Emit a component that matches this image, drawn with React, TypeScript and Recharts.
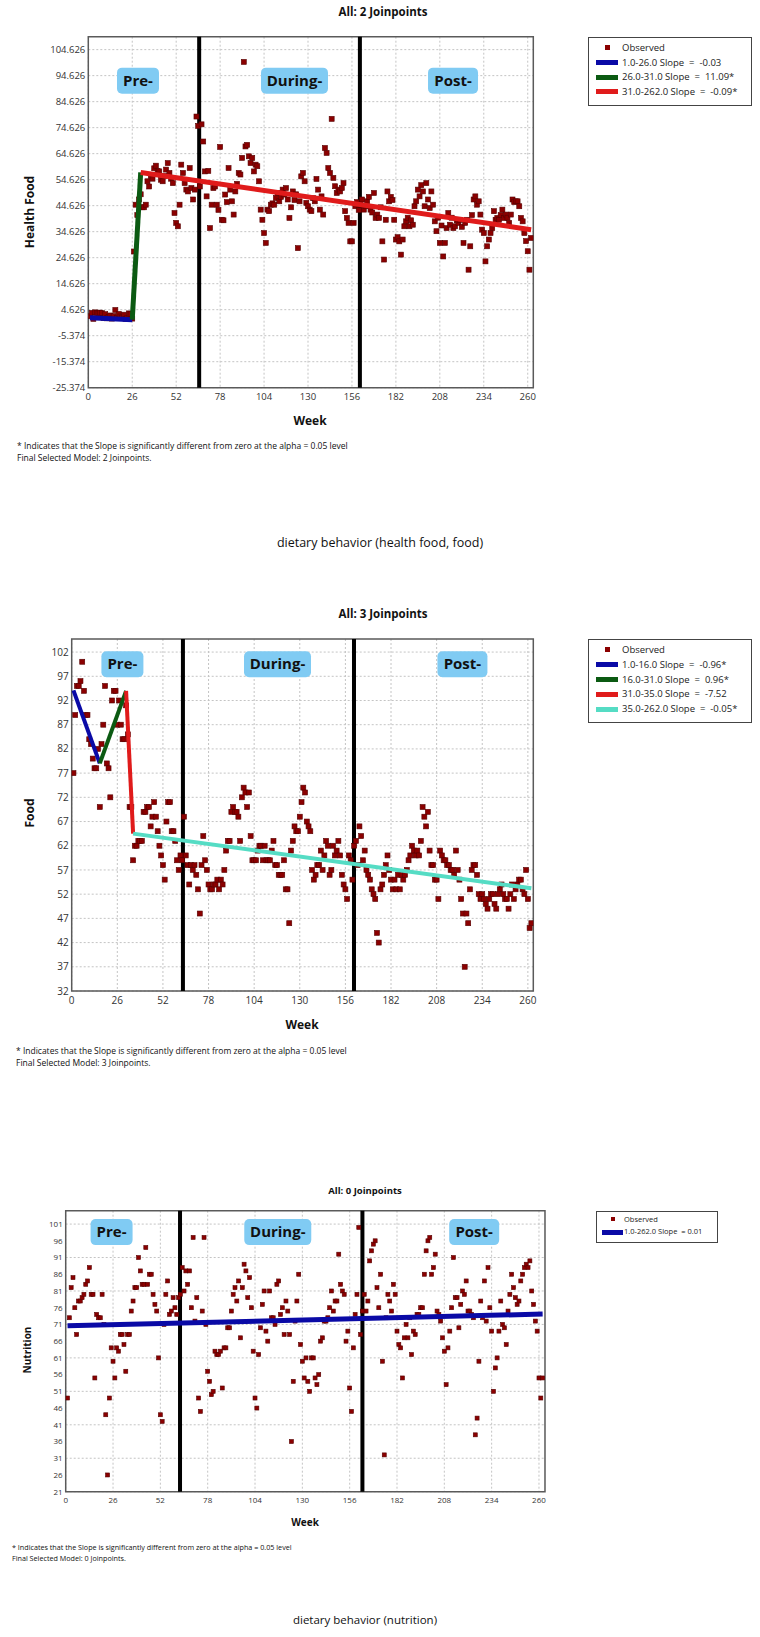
import React from "react";
import {
  ComposedChart,
  Scatter,
  XAxis,
  YAxis,
  CartesianGrid,
  ReferenceLine,
  ReferenceDot,
  ReferenceArea,
} from "recharts";

// ----- shared -----
const weekTicks = [0, 26, 52, 78, 104, 130, 156, 182, 208, 234, 260];
const periodLabels = ["Pre-", "During-", "Post-"];
const footnote = "* Indicates that the Slope is significantly different from zero at the alpha = 0.05 level";

// ----- chart 1: health food (weeks 1..262) -----
const healthFoodValues = [
  2.1, 3.4, 1.1, 3.6, 3.3, 3.2, 3.5, 3.3, 1.4, 2.9, 1.3, 1.8, 2.4, 1.2, 2.2, 4.5, 1.5, 3.0, 2.0, 1.6, 2.7, 1.1, 1.3, 3.2, 3.0, 1.2,
  27, 45, 41, 47, 49, 44, 44, 45, 54, 52, 56, 55, 59, 60, 58, 57.8, 54.6, 54, 56, 58.5, 61, 57.2, 55, 53.3,
  41.8, 38, 36.7, 45, 60.4, 57.2, 53.3, 50.8, 50.1, 59.1, 51.4, 47, 50.8, 78.9, 75.3, 52, 75.9, 69.3, 57.8, 48.2,
  58, 36, 45, 51.4, 52, 45, 43, 67.2, 39.2, 39, 48.9, 46, 59.1, 50.8, 46.3, 41.2, 50.1, 53, 57.2, 56.6,
  63, 99.9, 67.4, 68, 63.6, 61, 63, 57.8, 60.4, 59.8, 54, 43.1, 39.2, 34.1, 30.3, 43.1, 42.5, 45, 45.5, 45,
  47.6, 49.5, 46.3, 48, 50.8, 48.9, 51.4, 47, 39.9, 44, 50.1, 46.8, 49, 28.3, 46.3, 55.9, 57.2, 54, 45.7, 44.4,
  43.1, 42.5, 47.5, 46.3, 54.9, 50.8, 43.1, 48.2, 41.2, 66.8, 64.9, 59.1, 57.2, 78, 55.3, 52.1, 49.5, 50.8, 50.1, 51.4,
  53.3, 42.5, 39.9, 38, 30.9, 30.9, 38, 44.4, 46, 43, 45, 47, 43.1, 44.4, 46.3, 48, 43.1, 42, 49.5, 39.9,
  41.2, 39.9, 44, 30.9, 23.9, 39.2, 50.1, 46.3, 48, 46.8, 39.2, 31.6, 32.5, 30.9, 25.8, 31.6, 36.7, 38.6, 40, 36.7,
  39, 37.3, 44.4, 46.3, 50.8, 48.2, 52.5, 50.1, 44.4, 53.3, 47, 43.7, 50.1, 45, 38.6, 34.8, 40, 30.3, 37, 25.1,
  30.3, 36, 41.8, 37.3, 40, 36, 36.7, 39, 38, 39.2, 36.5, 30.3, 38, 39.2, 20, 29, 41, 47, 48.2, 45,
  46.3, 41.2, 35.4, 34.1, 23.2, 29, 31.6, 34.1, 36, 42.5, 39.2, 39.9, 39.2, 41, 43.1, 39.9, 41.2, 40, 38, 41.2,
  47, 46, 46.3, 46.3, 44.4, 39.9, 38.6, 34.1, 31, 27.1, 20, 32.2,
];
const healthFoodTicks = [-25.374, -15.374, -5.374, 4.626, 14.626, 24.626, 34.626, 44.626, 54.626, 64.626, 74.626, 84.626, 94.626, 104.626];
const healthJoinWeeks = [1, 26, 31, 262];
const healthJoinValues = [1.5, 0.8, 57.4, 35.4];
const healthColors = ["#0a0aa6", "#0b5a12", "#e01b1b"];
const healthLegend = ["1.0-26.0 Slope  =  -0.03", "26.0-31.0 Slope  =  11.09*", "31.0-262.0 Slope  =  -0.09*"];
const healthPhaseWeeks = [65.6, 160.7];
const healthLabelWeeks = [29.4, 122, 215.8];

// ----- chart 2: food -----
const foodValues = [
  77, 89, 95, 95, 96, 100, 94, 89, 89, 84, 83, 80, 78, 78, 82, 70, 83, 87, 95, 79,
  78, 72, 92, 94, 94, 87, 92, 87, 84, 84, 91, 85, 70, 70, 59, 62, 62, 63, 63, 63,
  69, 69, 70, 70, 66, 68, 71, 68, 65, 62, 60, 58, 55, 67, 71, 71, 65, 65, 63, 59,
  57, 60, 59, 68, 60, 58, 54, 58, 57, 58, 56, 53, 48, 58, 64, 59, 57, 54, 53, 53,
  54, 54, 55, 53, 55, 54, 57, 61, 63, 63, 69, 70, 69, 69, 68, 63, 72, 74, 73, 70,
  73, 64, 59, 59, 59, 61, 62, 62, 59, 62, 59, 59, 59, 61, 63, 58, 58, 56, 56, 56,
  59, 53, 53, 46, 61, 63, 66, 65, 65, 68, 71, 74, 73, 67, 66, 65, 57, 55, 56, 58,
  58, 61, 57, 60, 63, 62, 56, 57, 62, 60, 61, 63, 60, 56, 54, 53, 51, 60, 59, 55,
  62, 63, 58, 66, 64, 59, 61, 57, 56, 55, 53, 52, 51, 44, 42, 53, 54, 56, 58, 60,
  57, 55, 53, 55, 53, 56, 53, 56, 55, 56, 57, 59, 60, 62, 61, 60, 61, 60, 63, 70,
  68, 66, 69, 61, 58, 58, 55, 55, 51, 61, 60, 59, 59, 58, 58, 57, 57, 56, 61, 57,
  55, 51, 48, 37, 48, 46, 53, 57, 58, 58, 56, 52, 51, 52, 51, 50, 49, 51, 52, 52,
  50, 49, 52, 53, 54, 52, 51, 51, 49, 52, 54, 51, 53, 54, 55, 55, 53, 52, 57, 51,
  45, 46,
];
const foodTicks = [32, 37, 42, 47, 52, 57, 62, 67, 72, 77, 82, 87, 92, 97, 102];
const foodJoinWeeks = [1, 16, 31, 35, 262];
const foodJoinValues = [94.1, 79, 94, 64.5, 53.2];
const foodColors = ["#0a0aa6", "#0b5a12", "#e01b1b", "#55dcc4"];
const foodLegend = ["1.0-16.0 Slope  =  -0.96*", "16.0-31.0 Slope  =  0.96*", "31.0-35.0 Slope  =  -7.52", "35.0-262.0 Slope  =  -0.05*"];
const foodPhaseWeeks = [63.4, 160.9];
const foodLabelWeeks = [28.9, 117.3, 222.7];

// ----- chart 3: nutrition -----
const nutritionValues = [
  49, 73, 82, 85, 76, 68, 78, 78, 79, 80, 83, 84, 88, 80, 80, 55, 74, 73, 73, 80,
  71, 44, 26, 49, 64, 60, 55, 64, 63, 68, 68, 65, 57, 68, 68, 75, 78, 82, 82, 91,
  87, 83, 83, 94, 83, 86, 86, 80, 77, 75, 61, 44, 42, 71, 80, 84, 74, 75, 79, 76,
  74, 79, 80, 88, 81, 87, 83, 87, 76, 97, 72, 79, 49, 45, 75, 97, 71, 57, 54, 50,
  51, 63, 62, 62, 63, 52, 64, 64, 70, 70, 75, 80, 82, 78, 84, 67, 82, 89, 87, 79,
  85, 76, 63, 49, 46, 62, 70, 77, 81, 69, 66, 81, 73, 73, 71, 83, 84, 74, 76, 68,
  78, 75, 68, 36, 54, 72, 78, 86, 65, 60, 55, 61, 54, 51, 61, 61, 55, 53, 56, 66,
  67, 72, 72, 73, 76, 81, 75, 78, 78, 92, 83, 81, 80, 66, 69, 52, 45, 64, 74, 80,
  100, 68, 75, 80, 75, 78, 90, 93, 95, 96, 82, 76, 86, 60, 32, 73, 80, 78, 75, 83,
  80, 69, 65, 64, 55, 67, 71, 67, 73, 62, 69, 68, 74, 74, 76, 76, 86, 93, 96, 97,
  86, 88, 92, 75, 74, 72, 67, 63, 53, 64, 69, 76, 91, 79, 79, 70, 77, 81, 80, 84,
  75, 75, 74, 73, 38, 43, 60, 78, 73, 84, 72, 88, 76, 69, 51, 58, 61, 69, 78, 71,
  70, 65, 75, 80, 86, 82, 79, 77, 78, 84, 86, 88, 89, 88, 90, 81, 77, 72, 69, 55,
  49, 55,
];
const nutritionTicks = [21, 26, 31, 36, 41, 46, 51, 56, 61, 66, 71, 76, 81, 86, 91, 96, 101];
const nutritionJoinWeeks = [1, 262];
const nutritionJoinValues = [70.6, 74.1];
const nutritionColors = ["#0a0aa6"];
const nutritionLegend = ["1.0-262.0 Slope  = 0.01"];
const nutritionPhaseWeeks = [62.8, 163];
const nutritionLabelWeeks = [25.2, 116.5, 224.4];

const toPoints = (values: number[]) => values.map((v, i) => ({ week: i + 1, value: v }));

const segmentsOf = (weeks: number[], values: number[]) =>
  weeks.slice(0, -1).map((w, i) => [
    { week: w, value: values[i] },
    { week: weeks[i + 1], value: values[i + 1] },
  ]);

const squareShape = (size: number) => (props: any) => {
  const { cx, cy } = props;
  if (cx == null || cy == null) return <g />;
  return (
    <rect x={cx - size / 2} y={cy - size / 2} width={size} height={size} fill="#8b0000" stroke="#560000" strokeWidth={0.6} />
  );
};

const noDot = () => <g />;

function PeriodBox(props: any) {
  const { cx, cy, text, fontSize } = props;
  const w = text.length > 5 ? 67 : text.length > 4 ? 50 : 42;
  return (
    <g>
      <rect x={cx - w / 2} y={cy - 13} width={w} height={26} rx={5} fill="#80cbf3" />
      <text x={cx} y={cy + 5} textAnchor="middle" fontSize={fontSize} fontWeight={700} fill="#111">
        {text}
      </text>
    </g>
  );
}

type PanelProps = {
  top: number;
  width: number;
  height: number;
  marginTop: number;
  marginRight: number;
  yAxisWidth: number;
  xAxisHeight: number;
  xMax: number;
  yDomain: [number, number];
  yTicks: number[];
  decimals: number;
  values: number[];
  joinWeeks: number[];
  joinValues: number[];
  colors: string[];
  phaseWeeks: number[];
  labelWeeks: number[];
  labelValue: number;
  tickFont: number;
  marker: number;
  lineWidth: number;
  boxFont: number;
};

function Panel(p: PanelProps) {
  const points = toPoints(p.values);
  const segs = segmentsOf(p.joinWeeks, p.joinValues);
  return (
    <div style={{ position: "absolute", left: 0, top: p.top }}>
      <ComposedChart
        width={p.width}
        height={p.height}
        margin={{ top: p.marginTop, right: p.marginRight, left: 0, bottom: 0 }}
      >
        <CartesianGrid stroke="#c4c4c4" strokeDasharray="2 2" horizontalValues={p.yTicks} verticalValues={weekTicks} />
        <XAxis
          type="number"
          dataKey="week"
          domain={[0, p.xMax]}
          ticks={weekTicks}
          height={p.xAxisHeight}
          axisLine={false}
          tickLine={false}
          tickSize={3}
          tickMargin={3}
          tick={{ fontSize: p.tickFont, fill: "#333" }}
          allowDataOverflow
        />
        <YAxis
          type="number"
          dataKey="value"
          domain={p.yDomain}
          ticks={p.yTicks}
          width={p.yAxisWidth}
          axisLine={false}
          tickLine={false}
          tickSize={2}
          tickMargin={1}
          tick={{ fontSize: p.tickFont, fill: "#333" }}
          tickFormatter={(v: number) => v.toFixed(p.decimals)}
          allowDataOverflow
        />
        <ReferenceArea
          x1={0}
          x2={p.xMax}
          y1={p.yDomain[0]}
          y2={p.yDomain[1]}
          fill="none"
          stroke="#5a5a5a"
          strokeWidth={1.5}
          ifOverflow="visible"
        />
        {p.phaseWeeks.map((w) => (
          <ReferenceLine key={w} x={w} stroke="#000" strokeWidth={4} />
        ))}
        {periodLabels.map((t, i) => (
          <ReferenceDot
            key={t}
            x={p.labelWeeks[i]}
            y={p.labelValue}
            r={0}
            shape={(sp: any) => <PeriodBox cx={sp.cx} cy={sp.cy} text={t} fontSize={p.boxFont} />}
          />
        ))}
        <Scatter data={points} shape={squareShape(p.marker)} isAnimationActive={false} />
        {segs.map((seg, i) => (
          <Scatter
            key={i}
            data={seg}
            line={{ stroke: p.colors[i], strokeWidth: p.lineWidth }}
            shape={noDot}
            isAnimationActive={false}
          />
        ))}
      </ComposedChart>
    </div>
  );
}

function Txt(props: { x: number; y: number; size: number; bold?: boolean; left?: boolean; rotate?: boolean; children: React.ReactNode }) {
  const { x, y, size, bold, left, rotate, children } = props;
  const tr = left ? "translate(0,-50%)" : rotate ? "translate(-50%,-50%) rotate(-90deg)" : "translate(-50%,-50%)";
  return (
    <div
      style={{
        position: "absolute",
        left: x,
        top: y,
        transform: tr,
        fontSize: size,
        fontWeight: bold ? 700 : 400,
        whiteSpace: "pre",
        lineHeight: 1,
        color: "#111",
      }}
    >
      {children}
    </div>
  );
}

function LegendBox(props: {
  left: number;
  top: number;
  width: number;
  height: number;
  labels: string[];
  colors: string[];
  fontSize: number;
  rowStart: number;
  rowGap: number;
  swatchX: number;
  swatchW: number;
  textX: number;
  markerX: number;
  marker: number;
}) {
  const p = props;
  const rows = ["Observed", ...p.labels];
  return (
    <div
      style={{
        position: "absolute",
        left: p.left,
        top: p.top,
        width: p.width,
        height: p.height,
        border: "1.5px solid #444",
        boxSizing: "border-box",
        background: "#fff",
      }}
    >
      {rows.map((r, i) => {
        const cy = p.rowStart + i * p.rowGap;
        return (
          <React.Fragment key={r}>
            {i === 0 ? (
              <div
                style={{
                  position: "absolute",
                  left: p.markerX - p.marker / 2,
                  top: cy - p.marker / 2 - 1,
                  width: p.marker,
                  height: p.marker,
                  background: "#8b0000",
                }}
              />
            ) : (
              <div
                style={{
                  position: "absolute",
                  left: p.swatchX,
                  top: cy - 2.5,
                  width: p.swatchW,
                  height: 5,
                  background: p.colors[i - 1],
                }}
              />
            )}
            <div
              style={{
                position: "absolute",
                left: p.textX,
                top: cy,
                transform: "translate(0,-50%)",
                fontSize: p.fontSize,
                whiteSpace: "pre",
                lineHeight: 1,
                color: "#222",
              }}
            >
              {r}
            </div>
          </React.Fragment>
        );
      })}
    </div>
  );
}

export default function App() {
  return (
    <div
      style={{
        position: "absolute",
        left: 0,
        top: 0,
        width: 760,
        height: 1637,
        background: "#fff",
        fontFamily: "'Open Sans', sans-serif",
        overflow: "hidden",
      }}
    >
      {/* chart 1 */}
      <Txt x={383} y={12} size={11.5} bold>All: 2 Joinpoints</Txt>
      <Panel
        top={0}
        width={545}
        height={410}
        marginTop={36.7}
        marginRight={11.7}
        yAxisWidth={88.3}
        xAxisHeight={22.3}
        xMax={263.3}
        yDomain={[-25.374, 109.6]}
        yTicks={healthFoodTicks}
        decimals={3}
        values={healthFoodValues}
        joinWeeks={healthJoinWeeks}
        joinValues={healthJoinValues}
        colors={healthColors}
        phaseWeeks={healthPhaseWeeks}
        labelWeeks={healthLabelWeeks}
        labelValue={92.7}
        tickFont={9.5}
        marker={5}
        lineWidth={5}
        boxFont={15}
      />
      <Txt x={30} y={212} size={12} bold rotate>Health Food</Txt>
      <Txt x={310} y={421} size={12} bold>Week</Txt>
      <Txt x={17} y={446} size={8.5} left>{footnote}</Txt>
      <Txt x={17} y={458} size={8.5} left>Final Selected Model: 2 Joinpoints.</Txt>
      <LegendBox
        left={588}
        top={37}
        width={164}
        height={69}
        labels={healthLegend}
        colors={healthColors}
        fontSize={9.5}
        rowStart={10}
        rowGap={14.6}
        swatchX={7}
        swatchW={22}
        textX={33}
        markerX={18}
        marker={5}
      />
      <Txt x={380} y={543} size={12.5}>dietary behavior (health food, food)</Txt>

      {/* chart 2 */}
      <Txt x={383} y={614} size={11.5} bold>All: 3 Joinpoints</Txt>
      <Panel
        top={600}
        width={545}
        height={413}
        marginTop={39}
        marginRight={11.7}
        yAxisWidth={71.7}
        xAxisHeight={22}
        xMax={263.1}
        yDomain={[32, 104.7]}
        yTicks={foodTicks}
        decimals={0}
        values={foodValues}
        joinWeeks={foodJoinWeeks}
        joinValues={foodJoinValues}
        colors={foodColors}
        phaseWeeks={foodPhaseWeeks}
        labelWeeks={foodLabelWeeks}
        labelValue={99.5}
        tickFont={10}
        marker={5}
        lineWidth={4}
        boxFont={15}
      />
      <Txt x={30} y={813} size={12} bold rotate>Food</Txt>
      <Txt x={302} y={1025} size={12} bold>Week</Txt>
      <Txt x={16} y={1051} size={8.5} left>{footnote}</Txt>
      <Txt x={16} y={1063} size={8.5} left>Final Selected Model: 3 Joinpoints.</Txt>
      <LegendBox
        left={588}
        top={639}
        width={164}
        height={84}
        labels={foodLegend}
        colors={foodColors}
        fontSize={9.5}
        rowStart={10}
        rowGap={14.75}
        swatchX={7}
        swatchW={22}
        textX={33}
        markerX={18}
        marker={5}
      />

      {/* chart 3 */}
      <Txt x={365} y={1191} size={9.5} bold>All: 0 Joinpoints</Txt>
      <Panel
        top={1180}
        width={555}
        height={331.7}
        marginTop={30.7}
        marginRight={10}
        yAxisWidth={65.7}
        xAxisHeight={20}
        xMax={263.3}
        yDomain={[21, 105]}
        yTicks={nutritionTicks}
        decimals={0}
        values={nutritionValues}
        joinWeeks={nutritionJoinWeeks}
        joinValues={nutritionJoinValues}
        colors={nutritionColors}
        phaseWeeks={nutritionPhaseWeeks}
        labelWeeks={nutritionLabelWeeks}
        labelValue={98.6}
        tickFont={8}
        marker={4}
        lineWidth={5}
        boxFont={15}
      />
      <Txt x={27} y={1350} size={10} bold rotate>Nutrition</Txt>
      <Txt x={305} y={1522} size={10} bold>Week</Txt>
      <Txt x={12} y={1548} size={7.2} left>{footnote}</Txt>
      <Txt x={12} y={1559} size={7.2} left>Final Selected Model: 0 Joinpoints.</Txt>
      <LegendBox
        left={596}
        top={1211}
        width={122}
        height={32}
        labels={nutritionLegend}
        colors={nutritionColors}
        fontSize={7.5}
        rowStart={8}
        rowGap={12}
        swatchX={5}
        swatchW={21}
        textX={27}
        markerX={16}
        marker={4}
      />
      <Txt x={365} y={1620} size={11.5}>dietary behavior (nutrition)</Txt>
    </div>
  );
}
